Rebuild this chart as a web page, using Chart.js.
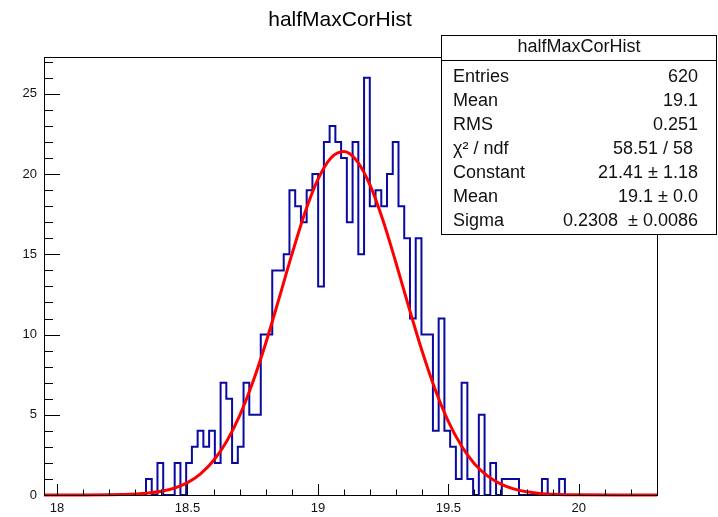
<!DOCTYPE html>
<html>
<head>
<meta charset="utf-8">
<script src="https://cdn.jsdelivr.net/npm/chart.js@4"></script>
<style>
  html, body { margin: 0; padding: 0; background: #fff; }
  #wrap { width: 718px; height: 517px; }
</style>
</head>
<body>
<div id="wrap"><canvas id="chart" width="718" height="517"></canvas></div>
<script>
const TITLE = "halfMaxCorHist";

// histogram: lower edge of the first filled bin, bin width, entries per bin
const BIN_START = 18.341;
const BIN_WIDTH = 0.022;
const COUNTS = [
  1, 0, 2, 0, 0, 2, 0, 2, 3, 4, 3, 4, 2, 7, 6, 2, 3, 7, 5, 5, 10, 10, 14, 14, 15, 19, 18,
  17, 19, 20, 13, 22, 23, 22, 21, 17, 22, 15, 26, 18, 19, 18, 20, 22, 18, 16, 11, 16, 10, 10,
  4, 11, 4, 3, 1, 7, 1, 0, 5, 0, 2, 0,
  1, 1, 1, 0, 0, 0, 0, 1, 0, 0, 1
];

const X_RANGE = [17.95, 20.3];
const Y_RANGE = [0, 27.3];
const X_TICKS = [18, 18.5, 19, 19.5, 20];
const Y_TICKS = [0, 5, 10, 15, 20, 25];

// gaussian fit curve
const FIT_X = [17.95, 18.1, 18.2, 18.25, 18.3, 18.35, 18.4, 18.45, 18.5, 18.55, 18.6, 18.65,
  18.7, 18.75, 18.8, 18.85, 18.9, 18.95, 19.0, 19.05, 19.1, 19.15, 19.2, 19.25, 19.3, 19.35,
  19.4, 19.45, 19.5, 19.55, 19.6, 19.65, 19.7, 19.75, 19.8, 19.85, 19.9, 19.95, 20.0, 20.15, 20.3];
const FIT_Y = [0, 0, 0.01, 0.03, 0.06, 0.12, 0.23, 0.43, 0.77, 1.32, 2.15, 3.34,
  4.95, 7.01, 9.46, 12.19, 14.98, 17.58, 19.67, 21.01, 21.41, 20.81, 19.31, 17.09, 14.43, 11.63,
  8.94, 6.56, 4.59, 3.07, 1.95, 1.19, 0.69, 0.38, 0.20, 0.10, 0.05, 0.02, 0.01, 0, 0];

const STATS_LABELS = ["Entries", "Mean", "RMS", "\u03c7\u00b2 / ndf", "Constant", "Mean", "Sigma"];
const STATS_VALUES = ["620", "19.1", "0.251", "58.51 / 58", "21.41 \u00b1 1.18", "19.1 \u00b1 0.0", "0.2308  \u00b1 0.0086"];

const FONT = "'Liberation Sans', Arial, Helvetica, sans-serif";

const histPoints = [{ x: X_RANGE[0], y: 0 }];
COUNTS.forEach((c, i) => histPoints.push({ x: BIN_START + i * BIN_WIDTH, y: c }));
histPoints.push({ x: BIN_START + COUNTS.length * BIN_WIDTH, y: 0 });
histPoints.push({ x: X_RANGE[1], y: 0 });

const fitPoints = FIT_X.map((x, i) => ({ x, y: FIT_Y[i] }));

const rootStyle = {
  id: "rootStyle",
  afterDraw(chart) {
    const { ctx, chartArea: a, scales } = chart;
    ctx.save();
    ctx.strokeStyle = "#000";
    ctx.lineWidth = 1;

    // frame
    ctx.strokeRect(a.left + 0.5, a.top + 0.5, a.right - a.left, a.bottom - a.top);

    // x ticks (inside, every 0.1, long every 0.5)
    ctx.beginPath();
    for (let k = 180; k <= 203; k++) {
      const v = k / 10;
      const px = Math.round(scales.x.getPixelForValue(v)) + 0.5;
      const len = k % 5 === 0 ? 11 : 5.5;
      ctx.moveTo(px, a.bottom);
      ctx.lineTo(px, a.bottom - len);
    }
    // y ticks (inside, every 1, long every 5)
    for (let v = 0; v <= 27; v++) {
      const py = Math.round(scales.y.getPixelForValue(v)) + 0.5;
      const len = v % 5 === 0 ? 16 : 9;
      ctx.moveTo(a.left, py);
      ctx.lineTo(a.left + len, py);
    }
    ctx.stroke();

    // title
    ctx.fillStyle = "#000";
    ctx.font = "21px " + FONT;
    ctx.textAlign = "center";
    ctx.textBaseline = "middle";
    ctx.fillText(TITLE, 340, 20);

    // stats box
    const bx = 441, by = 35, bw = 276, bh = 200;
    ctx.fillStyle = "#fff";
    ctx.fillRect(bx, by, bw, bh);
    ctx.strokeRect(bx + 0.5, by + 0.5, bw - 1, bh - 1);
    ctx.beginPath();
    ctx.moveTo(bx, 60.5);
    ctx.lineTo(bx + bw, 60.5);
    ctx.stroke();

    ctx.fillStyle = "#111";
    ctx.font = "18px " + FONT;
    ctx.textAlign = "center";
    ctx.fillText(TITLE, bx + bw / 2, 47);
    STATS_LABELS.forEach((lab, i) => {
      const y = 77 + i * 24;
      ctx.textAlign = "left";
      ctx.fillText(lab, 453, y);
      ctx.textAlign = "right";
      ctx.fillText(STATS_VALUES[i], i === 3 ? 693 : 698, y);
    });
    ctx.restore();
  }
};

new Chart(document.getElementById("chart"), {
  type: "line",
  data: {
    datasets: [
      {
        data: fitPoints,
        borderColor: "#ff0000",
        borderWidth: 3,
        pointRadius: 0,
        cubicInterpolationMode: "monotone",
        fill: false,
        order: 0,
        clip: 4,
      },
      {
        data: histPoints,
        borderColor: "#0a0aa0",
        borderWidth: 2,
        pointRadius: 0,
        stepped: "before",
        fill: false,
        order: 1,
        clip: 2,
      },
    ],
  },
  options: {
    responsive: false,
    animation: false,
    events: [],
    layout: { padding: { left: 0, right: 61, top: 57, bottom: 0 } },
    plugins: {
      legend: { display: false },
      tooltip: { enabled: false },
    },
    scales: {
      x: {
        type: "linear",
        min: X_RANGE[0],
        max: X_RANGE[1],
        grid: { display: false, drawTicks: false },
        border: { display: false },
        ticks: {
          autoSkip: false,
          maxRotation: 0,
          padding: 6,
          color: "#111",
          font: { family: FONT, size: 13 },
          callback: (v) => String(v),
        },
        afterBuildTicks: (s) => { s.ticks = X_TICKS.map((v) => ({ value: v })); },
        afterFit: (s) => { s.height = 22; },
      },
      y: {
        min: Y_RANGE[0],
        max: Y_RANGE[1],
        grid: { display: false, drawTicks: false },
        border: { display: false },
        ticks: {
          autoSkip: false,
          padding: 7,
          color: "#111",
          font: { family: FONT, size: 13 },
          callback: (v) => String(v),
        },
        afterBuildTicks: (s) => { s.ticks = Y_TICKS.map((v) => ({ value: v })); },
        afterFit: (s) => { s.width = 44; },
      },
    },
  },
  plugins: [rootStyle],
});
</script>
</body>
</html>
